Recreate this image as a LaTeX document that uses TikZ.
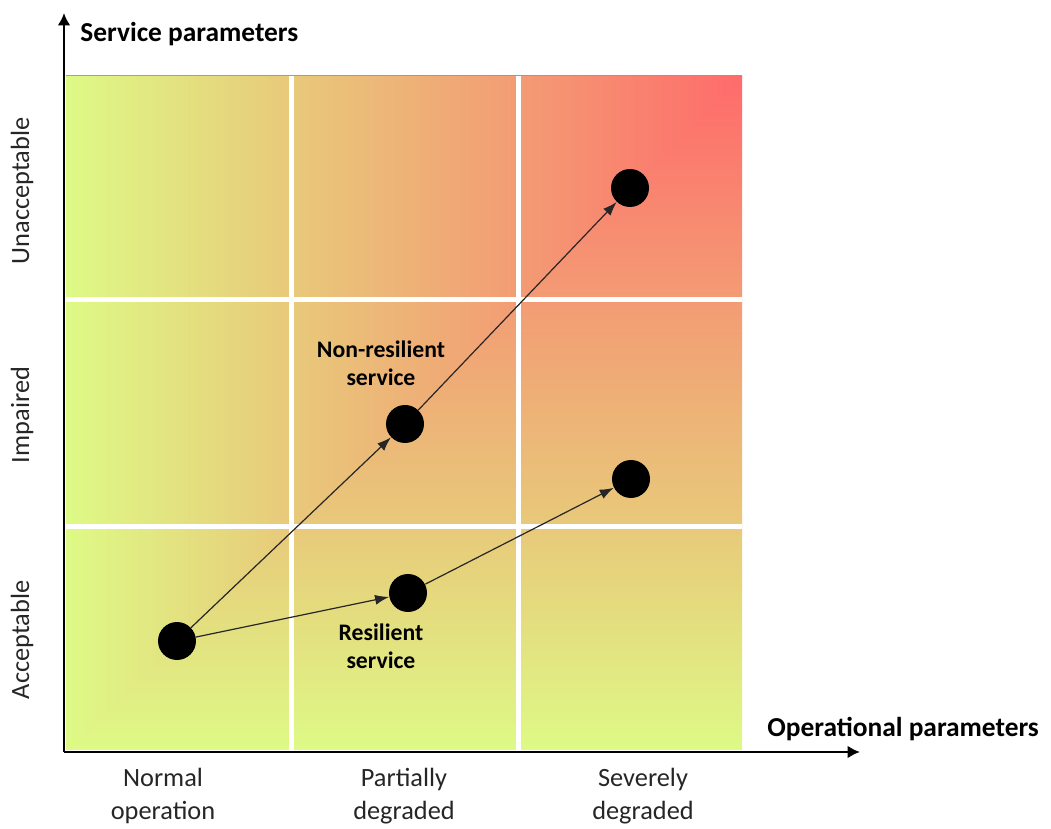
\documentclass[tikz,border=0pt]{standalone}
\usepackage{fontspec}
\setmainfont{Carlito}
\usetikzlibrary{arrows.meta}

\definecolor{lvlzero}{HTML}{DEFA86}
\definecolor{lvlone}{HTML}{E8C97A}
\definecolor{lvltwo}{HTML}{F39C74}
\definecolor{lvlthree}{HTML}{FF6B6B}
\definecolor{txtgray}{HTML}{262626}

\pgfdeclarehorizontalshading{levelx}{100bp}{color(0bp)=(lvlzero); color(25bp)=(lvlzero);
  color(41.67bp)=(lvlone); color(58.33bp)=(lvltwo); color(75bp)=(lvlthree); color(100bp)=(lvlthree)}
\pgfdeclareverticalshading{levely}{100bp}{color(0bp)=(lvlzero); color(25bp)=(lvlzero);
  color(41.67bp)=(lvlone); color(58.33bp)=(lvltwo); color(75bp)=(lvlthree); color(100bp)=(lvlthree)}

\begin{document}
\begin{tikzpicture}[x=0.02cm, y=0.02cm,
  axis/.style={line width=0.05cm, -{Latex[length=0.25cm,width=0.26cm]}},
  traj/.style={line width=0.024cm, draw=black!85, -{Latex[length=0.28cm,width=0.2cm]}},
  dot/.style={circle, fill=black, inner sep=0pt, minimum size=0.76cm},
  lbl/.style={text=txtgray, font=\fontsize{15}{18.7}\selectfont, align=center},
  title/.style={font=\fontsize{15.6}{18}\selectfont\bfseries, inner sep=0pt},
  state/.style={font=\fontsize{13.5}{15.9}\selectfont\bfseries, align=center}]
  \useasboundingbox (0,0) rectangle (1051,828);

  % coloured levels
  \shade[shading=levely] (66,78) rectangle (742,752);
  \shade[shading=levelx] (66,78) -- (66,752) -- (742,752) -- cycle;
  \foreach \gx in {291,518}
    \draw[white, line width=0.1cm] (\gx,78) -- (\gx,752);
  \foreach \gy in {301,528}
    \draw[white, line width=0.1cm] (66,\gy) -- (742,\gy);

  % axes
  \coordinate (orig) at (64,76);
  \coordinate (ytip) at (64,815);
  \coordinate (xtip) at (860,76);
  \draw[axis] (orig) -- (ytip);
  \draw[axis] (orig) -- (xtip);
  \node[title, anchor=base west] (ytitle) at (80,786) {Service parameters};
  \node[title, anchor=base west] (xtitle) at (767,91) {Operational parameters};

  \node[lbl] (normal) at (163,32) {Normal\\operation};
  \node[lbl] (partial) at (404,32) {Partially\\degraded};
  \node[lbl] (severe) at (643,32) {Severely\\degraded};
  \node[lbl, rotate=90] (unacc) at (22,637) {Unacceptable};
  \node[lbl, rotate=90] (impaired) at (22,413) {Impaired};
  \node[lbl, rotate=90] (acc) at (22,188) {Acceptable};

  % service states
  \node[dot] (start) at (177,187) {};
  \node[dot] (nonres1) at (405,404) {};
  \node[dot] (nonres2) at (630,640) {};
  \node[dot] (res1) at (408,235) {};
  \node[dot] (res2) at (631,349) {};
  \draw[traj] (start) -- (nonres1);
  \draw[traj] (nonres1) -- (nonres2);
  \draw[traj] (start) -- (res1);
  \draw[traj] (res1) -- (res2);
  \node[state] (nrlabel) at (381,465) {Non-resilient\\service};
  \node[state] (rlabel) at (381,182) {Resilient\\service};
\end{tikzpicture}
\end{document}
